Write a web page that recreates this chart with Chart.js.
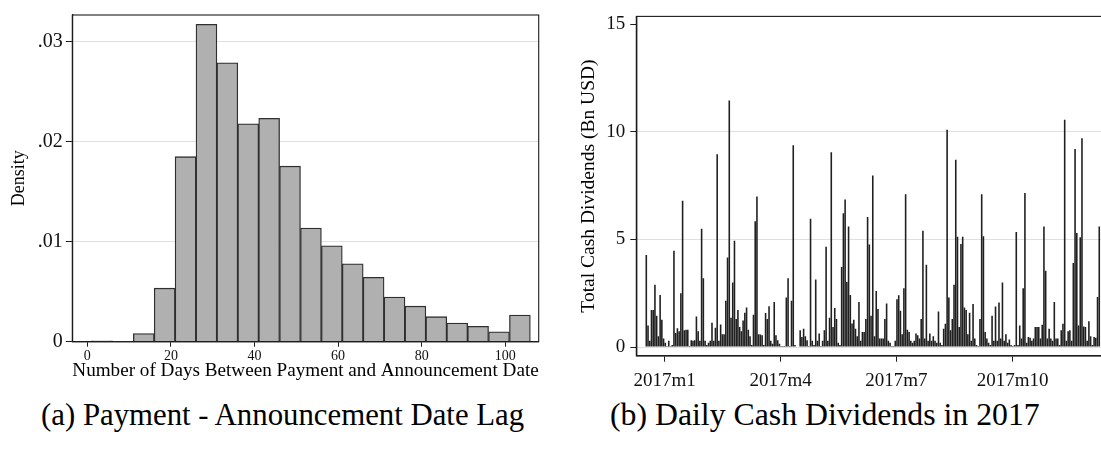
<!DOCTYPE html>
<html><head><meta charset="utf-8">
<script src="https://cdn.jsdelivr.net/npm/chart.js@4.4.1/dist/chart.umd.min.js"></script>
<style>
html,body{margin:0;padding:0;background:#fff;overflow:hidden;width:1101px;height:450px;}
#wrap{position:relative;width:1101px;height:450px;overflow:hidden;background:#fff;}
canvas{position:absolute;top:0;}
.cap{position:absolute;font-family:'Liberation Serif',serif;color:#000;white-space:nowrap;line-height:1;}
</style></head><body>
<div id="wrap">
<canvas id="c1" width="550" height="395" style="left:0px"></canvas>
<canvas id="c2" width="580" height="395" style="left:550px"></canvas>
<div class="cap" id="capA">(a) Payment - Announcement Date Lag</div>
<div class="cap" id="capB">(b) Daily Cash Dividends in 2017</div>
</div>
<script>
// ---------- Data: panel (a) histogram ----------
const lagBinStart = [1,6,11,16,21,26,31,36,41,46,51,56,61,66,71,76,81,86,91,96,101];
const lagBinWidth = 5;
const lagDensity = [0.00008,0.00003,0.00082,0.00535,0.01849,0.03172,0.02788,0.02177,0.02233,0.01754,
                    0.01136,0.00959,0.00778,0.00644,0.00447,0.00355,0.0025,0.00187,0.00154,0.00099,0.00266];
const lagTicks = [0,20,40,60,80,100];
const densityTicks = [0,0.01,0.02,0.03];
const densityTickLabels = ['0','.01','.02','.03'];

// ---------- Data: panel (b) daily cash dividends (Bn USD), trading-day sequence ----------
const divValues = [
 4.28,1.0,0.3,1.72,1.72,2.9,1.46,0.5,2.42,1.27,0.4,0.2,0.05,0.3,0.05,0.1,4.48,0.65,0.88,0.73,
 2.5,6.8,0.78,0.8,0.8,0.05,0.32,0.3,0.32,1.42,0.73,0.3,5.5,3.2,0.3,0.1,0.2,0.3,1.13,0.3,
 0.9,8.96,0.3,1.05,0.6,
 0.6,2.15,4.16,11.45,1.36,3.0,4.94,1.3,1.72,0.93,0.73,1.23,1.6,1.84,0.8,0.5,0.1,1.5,5.85,7.0,
 0.6,0.58,0.55,0.1,1.58,1.3,1.9,0.3,0.15,2.09,0.55,0.32,0.15,0.05,0.05,0.05,2.3,3.2,0.05,2.15,
 9.38,0.1,0.0,0.0,0.78,0.47,0.85,0.5,0.32,0.05,5.96,
 0.3,0.1,3.14,0.3,0.63,0.05,0.3,0.78,4.66,0.3,1.36,9.05,0.93,1.81,1.31,0.2,0.1,3.72,6.22,6.86,
 3.02,5.6,2.42,1.1,1.27,0.85,0.5,2.1,0.3,0.7,0.7,1.31,6.04,4.77,1.46,7.97,0.5,2.6,1.77,0.4,
 0.4,0.4,1.31,2.03,0.3,0.2,0.05,0.05,0.3,2.22,2.41,1.69,0.6,2.73,
 7.1,0.8,0.7,0.3,0.2,0.3,0.63,0.55,0.4,1.31,5.4,0.4,3.83,0.3,0.63,0.3,0.5,0.3,0.2,1.65,
 0.2,0.1,0.85,1.08,10.1,2.3,0.78,1.31,2.9,8.7,5.12,0.93,4.79,5.12,1.84,1.72,0.6,1.6,0.3,2.0,
 0.4,0.1,0.05,1.31,7.1,5.15,0.7,0.4,0.2,0.1,1.46,0.3,
 1.88,0.3,2.07,0.4,3.0,0.3,0.6,0.2,0.35,0.1,0.05,0.1,5.35,0.1,1.0,0.4,2.73,7.16,0.2,0.47,
 0.43,0.3,0.4,0.93,0.93,0.93,0.4,1.04,5.6,3.55,0.4,0.85,0.4,0.3,2.1,0.4,0.4,0.1,0.78,1.08,
 10.56,0.3,0.73,0.78,0.3,3.9,9.2,5.3,1.0,5.1,9.7,0.96,0.93,0.3,1.2,0.5,0.1,0.47,0.43,2.33,5.6
];
const divTickPos = [10.64, 77.7, 144.6, 211.9];
const divTickLabels = ['2017m1','2017m4','2017m7','2017m10'];
const divYTicks = [0,5,10,15];

// ---------- Styling ----------
Chart.defaults.font.family = "'Liberation Serif', 'Times New Roman', serif";
Chart.defaults.color = '#111';
const DARK = '#1c1c1c';
const GRID = '#e0e0e0';

const framePlugin = {
  id: 'frame',
  afterDraw(chart) {
    const {ctx, chartArea: a} = chart;
    ctx.save();
    ctx.strokeStyle = DARK;
    ctx.lineWidth = 1.1;
    ctx.strokeRect(a.left, a.top, a.right - a.left, a.bottom - a.top);
    ctx.restore();
  }
};

// ---------- Panel (a) ----------
new Chart(document.getElementById('c1'), {
  type: 'bar',
  data: {
    datasets: [{
      data: lagBinStart.map((s, i) => ({x: s + lagBinWidth / 2, y: lagDensity[i]})),
      backgroundColor: '#b0b0b0',
      borderColor: '#2f2f2f',
      borderWidth: 1.3,
      borderSkipped: 'start',
      barPercentage: 1,
      categoryPercentage: 1
    }]
  },
  options: {
    responsive: false, animation: false, events: [],
    layout: {padding: {left: 0, top: 10.3, right: 11.3, bottom: 12}},
    plugins: {legend: {display: false}, tooltip: {enabled: false}},
    scales: {
      x: {
        type: 'linear', min: -3.6, max: 108, offset: false,
        afterBuildTicks: s => { s.ticks = lagTicks.map(v => ({value: v})); },
        afterFit: s => { s.height = 41.3; },
        grid: {drawOnChartArea: false, offset: false, tickLength: 5, tickColor: DARK, tickWidth: 1},
        border: {color: DARK, width: 1.2},
        ticks: {font: {size: 14}, color: '#111', padding: 1, maxRotation: 0, autoSkip: false},
        title: {display: true, text: 'Number of Days Between Payment and Announcement Date',
                font: {size: 19.5}, color: '#000', padding: 0}
      },
      y: {
        min: 0, max: 0.03265,
        afterBuildTicks: s => { s.ticks = densityTicks.map(v => ({value: v})); },
        afterFit: s => { s.width = 72.3; },
        grid: {color: GRID, lineWidth: 1, tickColor: DARK, tickLength: 6.5},
        border: {color: DARK, width: 1.2},
        ticks: {font: {size: 20}, color: '#111', padding: 3,
                callback: v => densityTickLabels[densityTicks.indexOf(v)]},
        title: {display: true, text: 'Density', font: {size: 18}, color: '#000', padding: {top: 8.5, bottom: 0}}
      }
    }
  },
  plugins: [framePlugin]
});

// ---------- Panel (b) ----------
new Chart(document.getElementById('c2'), {
  type: 'bar',
  data: {
    datasets: [{
      data: divValues.map((v, i) => ({x: i, y: v})),
      backgroundColor: '#202020',
      borderWidth: 0,
      barPercentage: 0.92,
      categoryPercentage: 1
    }]
  },
  options: {
    responsive: false, animation: false, events: [],
    layout: {padding: {left: 0, top: 11, right: 15, bottom: 2.3}},
    plugins: {legend: {display: false}, tooltip: {enabled: false}},
    scales: {
      x: {
        type: 'linear', min: -5.78, max: 271.1, offset: false,
        afterBuildTicks: s => { s.ticks = divTickPos.map(v => ({value: v})); },
        afterFit: s => { s.height = 37; },
        grid: {drawOnChartArea: false, offset: false, tickLength: 6, tickColor: DARK, tickWidth: 1},
        border: {color: DARK, width: 1.4},
        ticks: {font: {size: 19}, color: '#111', padding: 8, maxRotation: 0, autoSkip: false,
                callback: (v, i) => divTickLabels[i]}
      },
      y: {
        min: -0.4, max: 15.36,
        afterBuildTicks: s => { s.ticks = divYTicks.map(v => ({value: v})); },
        afterFit: s => { s.width = 86.3; },
        grid: {color: c => (c.tick && c.tick.value === 15 ? 'rgba(0,0,0,0)' : GRID), lineWidth: 1,
               tickColor: DARK, tickLength: 6},
        border: {color: DARK, width: 1.4},
        ticks: {font: {size: 19}, color: '#111', padding: 5, callback: v => String(v)},
        title: {display: true, text: 'Total Cash Dividends (Bn USD)', font: {size: 19.5}, color: '#000',
                padding: {top: 27, bottom: 0}}
      }
    }
  },
  plugins: [framePlugin]
});

// ---------- Captions ----------
function placeCaption(id, left, width, baseline) {
  const el = document.getElementById(id);
  const m = document.createElement('canvas').getContext('2d');
  m.font = "100px 'Liberation Serif'";
  const w = m.measureText(el.textContent).width;
  const fs = 100 * width / w;
  el.style.fontSize = fs + 'px';
  el.style.left = left + 'px';
  el.style.top = (baseline - 0.8375 * fs) + 'px';
}
placeCaption('capA', 41, 485, 426);
placeCaption('capB', 610, 430, 426);
</script>
</body></html>
